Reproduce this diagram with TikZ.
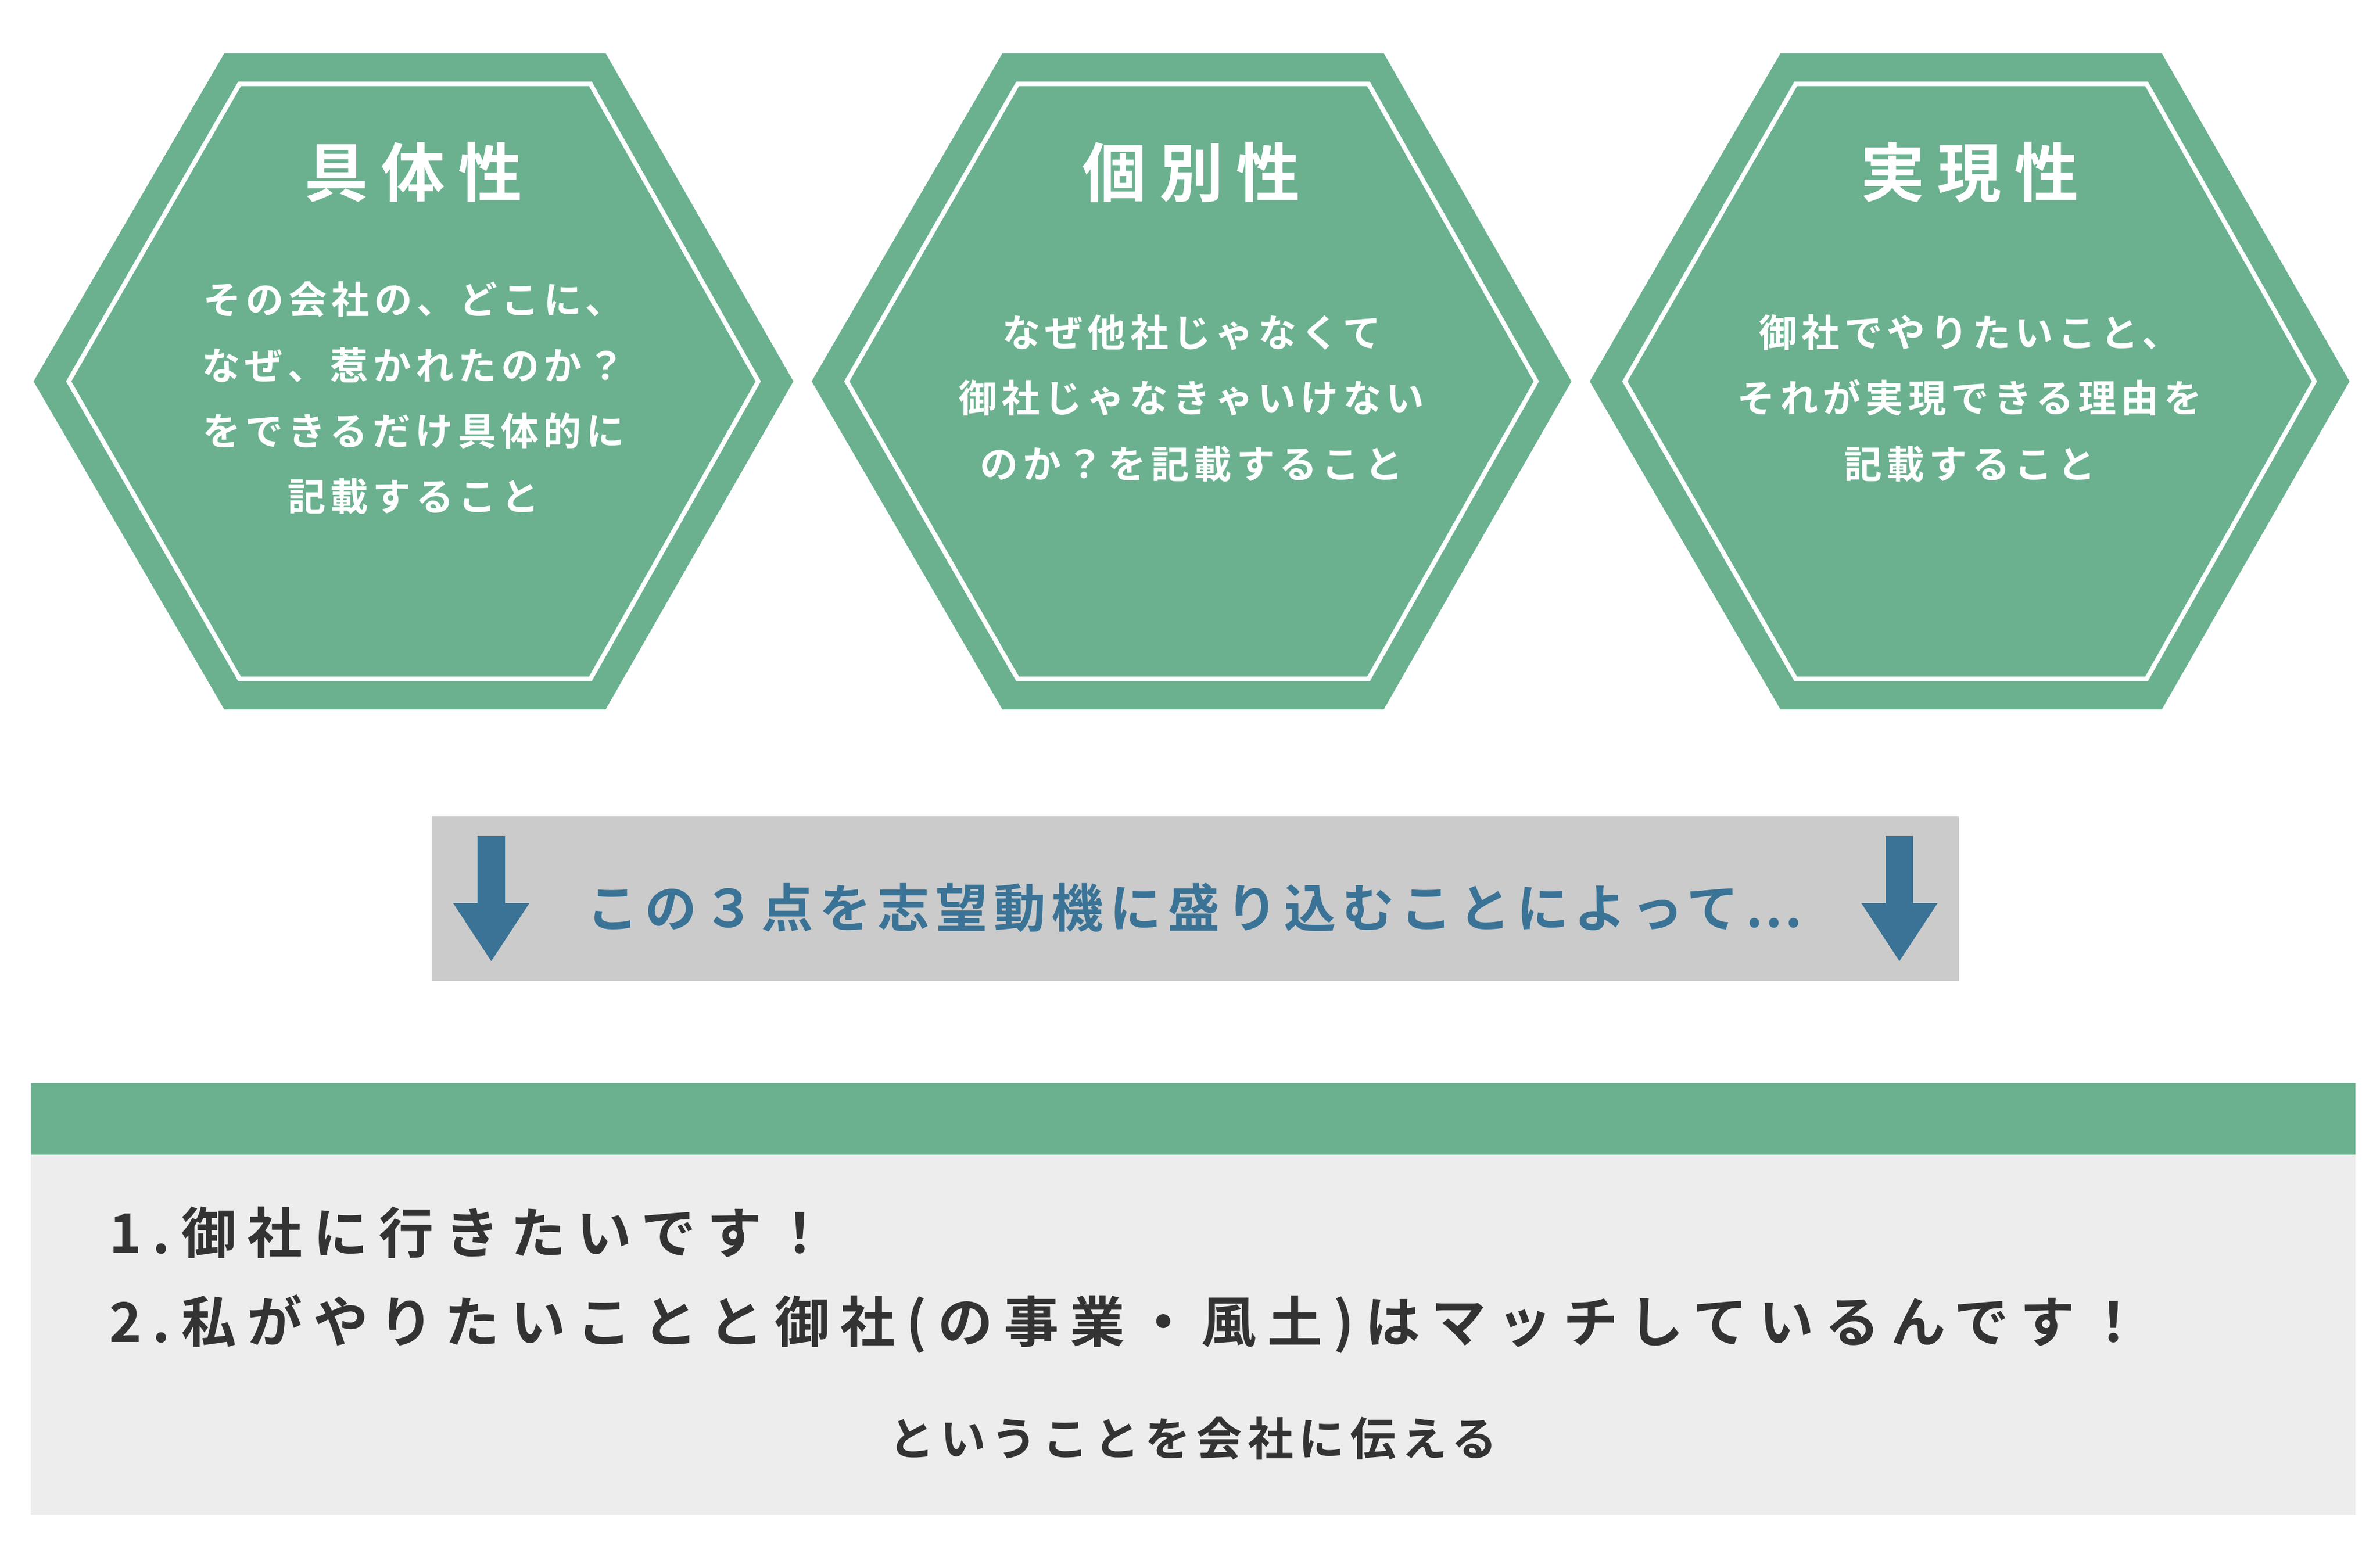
\documentclass[tikz,border=0pt]{standalone}
\usepackage{fontspec}
\setmainfont{Noto Sans CJK JP}[BoldFont={* Bold}]
\newfontfamily\jb{Noto Sans CJK JP Bold}[LetterSpace=12]
\newfontfamily\jbw{Noto Sans CJK JP Bold}[LetterSpace=20]
\definecolor{grn}{HTML}{6BB18F}
\definecolor{band}{HTML}{CBCBCB}
\definecolor{blu}{HTML}{3A7396}
\definecolor{lgray}{HTML}{EDEDED}
\definecolor{dark}{HTML}{333333}
\begin{document}
\begin{tikzpicture}[x=1pt,y=-1pt,
 ttl/.style={text=white,font=\jbw\fontsize{42}{50}\selectfont},
 body/.style={text=white,align=center,font=\jb\fontsize{25}{43}\selectfont},
 arr/.style={fill=blu}]
\useasboundingbox (0,0) rectangle (1560,1016);
\foreach \dx/\t/\b/\by in {0/具体性/{その会社の、どこに、\\なぜ、惹かれたのか？\\をできるだけ具体的に\\記載すること}/261,
 510/個別性/{なぜ他社じゃなくて\\御社じゃなきゃいけない\\のか？を記載すること}/261,
 1020/実現性/{御社でやりたいこと、\\それが実現できる理由を\\記載すること}/261}{
 \fill[grn] (147+\dx,35) -- (397+\dx,35) -- (520+\dx,250) -- (397+\dx,465) -- (147+\dx,465) -- (22+\dx,250) -- cycle;
 \draw[white,line width=3] (157+\dx,55) -- (387+\dx,55) -- (497+\dx,250) -- (387+\dx,445) -- (157+\dx,445) -- (45+\dx,250) -- cycle;
 \node[ttl] (t\dx) at (271+\dx,113) {\t};
 \node[body] (b\dx) at (271+\dx,\by) {\b};
}
\fill[band] (283,535) rectangle (1284,643);
\node[text=blu,font=\jb\fontsize{34}{40}\selectfont] (mid) at (783,595) {この３点を志望動機に盛り込むことによって…};
\foreach \x in {322,1245}{
 \fill[arr] (\x-9,548) -- (\x+9,548) -- (\x+9,592) -- (\x+25,592) -- (\x,630) -- (\x-25,592) -- (\x-9,592) -- cycle;}
\fill[grn] (20,710) rectangle (1544,757);
\fill[lgray] (20,757) rectangle (1544,993);
\node[anchor=west,text=dark,font=\jbw\fontsize{36}{40}\selectfont] (l1) at (68,808) {1.御社に行きたいです！};
\node[anchor=west,text=dark,font=\jbw\fontsize{36}{40}\selectfont] (l2) at (68,868) {2.私がやりたいことと御社(の事業・風土)はマッチしているんです！};
\node[text=dark,font=\jb\fontsize{30}{36}\selectfont] (l3) at (782,943) {ということを会社に伝える};
\end{tikzpicture}
\end{document}
